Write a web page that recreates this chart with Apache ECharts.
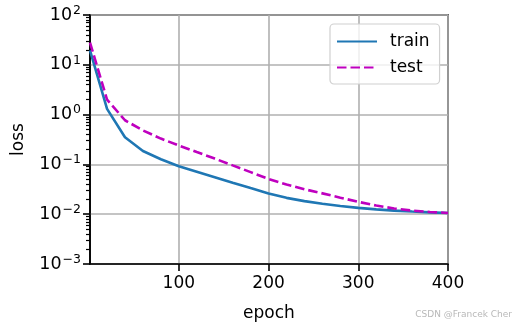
<!DOCTYPE html>
<html>
<head>
<meta charset="utf-8">
<script src="https://cdn.jsdelivr.net/npm/echarts@6/dist/echarts.min.js"></script>
<style>
  html, body { margin: 0; padding: 0; background: #fff; }
  #chart { width: 516px; height: 330px; }
</style>
</head>
<body>
<div id="chart"></div>
<script>
// Training curve of polynomial regression: loss per epoch, logged every 20 epochs
var epochs = [1, 20, 40, 60, 80, 100, 120, 140, 160, 180, 200, 220, 240, 260, 280, 300, 320, 340, 360, 380, 400];
var trainLoss = [19.5, 1.3, 0.35, 0.186, 0.127, 0.092, 0.0715, 0.0555, 0.043, 0.0334, 0.026, 0.0213, 0.0183, 0.0162, 0.0146, 0.0134, 0.0125, 0.0118, 0.0113, 0.0109, 0.0106];
var testLoss = [28, 2.0, 0.77, 0.48, 0.33, 0.24, 0.177, 0.131, 0.0955, 0.070, 0.051, 0.0395, 0.0317, 0.0262, 0.0215, 0.0177, 0.0149, 0.013, 0.0118, 0.0111, 0.0106];
var xTicks = [100, 200, 300, 400];
var yTicks = [0.001, 0.01, 0.1, 1, 10, 100];

// minor ticks at 2..9 x 10^k for each decade
var yMinorTicks = [];
for (var k = -3; k < 2; k++) {
  for (var m = 2; m <= 9; m++) {
    yMinorTicks.push(parseFloat((m * Math.pow(10, k)).toPrecision(3)));
  }
}

function pairs(xs, ys) {
  return xs.map(function (x, i) { return [x, ys[i]]; });
}

var FONT = 'DejaVu Sans';
var chart = echarts.init(document.getElementById('chart'), null, { renderer: 'canvas' });

chart.setOption({
  animation: false,
  textStyle: { fontFamily: FONT },
  grid: {
    left: 90, right: 68, top: 15, bottom: 66,
    show: true, borderColor: '#000', borderWidth: 1.6, backgroundColor: 'transparent'
  },
  legend: {
    orient: 'vertical',
    left: 330, top: 24,
    itemWidth: 40, itemHeight: 14, itemGap: 9,
    padding: [9, 10, 8, 6],
    borderColor: '#d0d0d0', borderWidth: 1.2, borderRadius: 4,
    backgroundColor: 'rgba(255,255,255,0.8)',
    itemStyle: { opacity: 0 },
    textStyle: { fontFamily: FONT, fontSize: 17, color: '#000', padding: [0, 0, 0, 8] },
    data: ['train', 'test']
  },
  xAxis: {
    type: 'value',
    min: 1, max: 400,
    name: 'epoch', nameLocation: 'middle', nameGap: 41,
    nameTextStyle: { fontFamily: FONT, fontSize: 17, color: '#000' },
    axisLine: { show: true, lineStyle: { color: '#000', width: 1.6 } },
    axisTick: { show: true, customValues: xTicks, length: 7, inside: false, lineStyle: { color: '#000', width: 1.6 } },
    axisLabel: { customValues: xTicks, margin: 11, fontFamily: FONT, fontSize: 17, color: '#000' },
    splitLine: { show: true, lineStyle: { color: '#b0b0b0', width: 1.6 } }
  },
  yAxis: [{
    type: 'log', logBase: 10,
    min: 0.001, max: 100,
    name: 'loss', nameLocation: 'middle', nameGap: 63,
    nameTextStyle: { fontFamily: FONT, fontSize: 17, color: '#000' },
    axisLine: { show: true, lineStyle: { color: '#000', width: 1.6 } },
    axisTick: { show: true, customValues: yTicks, length: 7, inside: false, lineStyle: { color: '#000', width: 1.6 } },
    axisLabel: {
      customValues: yTicks, margin: 9,
      formatter: function (v) {
        var e = Math.round(Math.log10(v));
        var s = e < 0 ? '\u2212' + (-e) : String(e);
        return '{b|10}{e|' + s + '}';
      },
      rich: {
        b: { fontFamily: FONT, fontSize: 17.5, color: '#000' },
        e: { fontFamily: FONT, fontSize: 12.5, color: '#000', padding: [0, 0, 9, 1] }
      }
    },
    splitLine: { show: true, lineStyle: { color: '#b0b0b0', width: 1.6 } }
  }, {
    // companion axis carrying only the minor ticks
    type: 'log', logBase: 10,
    min: 0.001, max: 100,
    position: 'left',
    axisLine: { show: false },
    axisTick: { show: true, customValues: yMinorTicks, length: 4, inside: false, lineStyle: { color: '#000', width: 1.2 } },
    axisLabel: { show: false },
    splitLine: { show: false }
  }],
  series: [{
    name: 'train', type: 'line',
    data: pairs(epochs, trainLoss),
    symbol: 'none', smooth: false,
    itemStyle: { color: '#1f77b4' },
    lineStyle: { color: '#1f77b4', width: 2.6 },
    z: 3
  }, {
    name: 'test', type: 'line',
    data: pairs(epochs, testLoss),
    symbol: 'none', smooth: false,
    itemStyle: { color: '#bf00bf' },
    lineStyle: { color: '#bf00bf', width: 2.6, type: [9.5, 4] },
    z: 4
  }],
  graphic: [{
    type: 'text', right: 4, bottom: 11,
    style: { text: 'CSDN @Francek Cher', fontFamily: FONT, fontSize: 9, fill: '#b8b8b8' }
  }]
});
</script>
</body>
</html>
